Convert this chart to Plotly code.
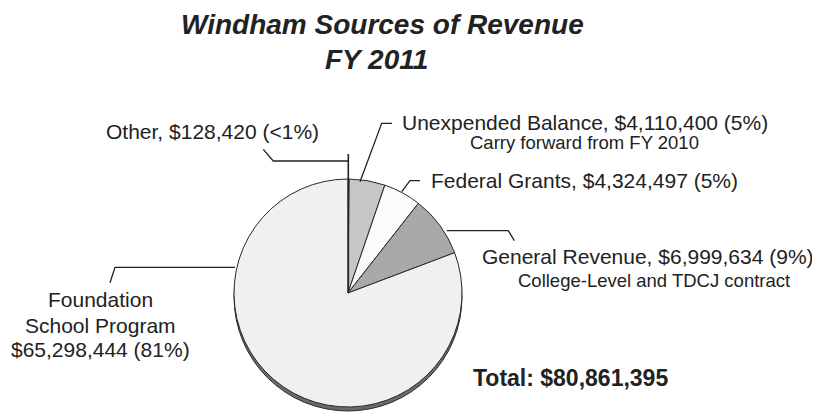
import plotly.graph_objects as go

# ---- data ----
categories = ["Other", "Unexpended Balance", "Federal Grants", "General Revenue", "Foundation School Program"]
values = [128420, 4110400, 4324497, 6999634, 65298444]
pct_labels = ["<1%", "5%", "5%", "9%", "81%"]
notes = ["", "Carry forward from FY 2010", "", "College-Level and TDCJ contract", ""]
colors = ["#555555", "#c6c6c6", "#fbfbfb", "#a9a9a9", "#f0f0f0"]
title_lines = ["Windham Sources of Revenue", "FY 2011"]

total = sum(values)

# page is 820x412; the html body has an 8px margin, so the figure is sized to fit
OFF = 8
W, H = 820 - OFF, 412 - OFF
FONT = "Arial, Liberation Sans, sans-serif"
TXT = "#222222"


def px(x):
    return (x - OFF) / W


def py(y):
    return 1 - (y - OFF) / H


# pie geometry (page pixels)
CX, CY, R = 348, 293, 114

fig = go.Figure()
fig.add_trace(go.Pie(
    labels=categories,
    values=values,
    sort=False,
    direction="clockwise",
    rotation=0,
    marker=dict(colors=colors, line=dict(color="#2a2a2a", width=1)),
    textinfo="none",
    hoverinfo="label+value+percent",
    showlegend=False,
    domain=dict(x=[px(CX - R), px(CX + R)], y=[py(CY + R), py(CY - R)]),
))

shapes = []
# 3D base / shadow under the pie
shapes.append(dict(type="circle", xref="paper", yref="paper", layer="below",
                   x0=px(CX - R), x1=px(CX + R), y0=py(CY + R + 4), y1=py(CY - R + 4),
                   fillcolor="#6a6a6a", line=dict(color="#2a2a2a", width=1)))


def path(points):
    s = "M " + " L ".join(f"{px(x)} {py(y)}" for x, y in points)
    return dict(type="path", xref="paper", yref="paper", path=s,
                line=dict(color="#222222", width=1.3))


# leader lines
shapes.append(path([(263.3, 149.3), (273.3, 161), (348.3, 161)]))
shapes.append(dict(type="line", xref="paper", yref="paper",
                   x0=px(348.3), x1=px(348.3), y0=py(154), y1=py(CY),
                   line=dict(color="#222222", width=1.6)))
shapes.append(path([(360, 181.7), (381.7, 123.3), (392, 123.3)]))
shapes.append(path([(401.7, 191.7), (410, 180.7), (420, 180.7)]))
shapes.append(path([(446.7, 230.7), (508.3, 230.7), (514.3, 240.7)]))
shapes.append(path([(235, 267.3), (115, 267.3), (110, 282.7)]))

annotations = []


def ann(text, x, y, size, xanchor="left", bold=False, italic=False):
    if bold:
        text = f"<b>{text}</b>"
    if italic:
        text = f"<i>{text}</i>"
    annotations.append(dict(text=text, x=px(x), y=py(y), xref="paper", yref="paper",
                            xanchor=xanchor, yanchor="middle", showarrow=False,
                            font=dict(family=FONT, size=size, color=TXT)))


# title
ann(title_lines[0], 382, 24, 28, xanchor="center", bold=True, italic=True)
ann(title_lines[1], 376, 59, 28, xanchor="center", bold=True, italic=True)


def main_label(i):
    return f"{categories[i]}, ${values[i]:,} ({pct_labels[i]})"


# slice labels
ann(main_label(0), 104, 131, 21)
ann(main_label(1), 400, 122.5, 21)
ann(notes[1], 584, 142, 18.5, xanchor="center")
ann(main_label(2), 429, 181, 21)
ann(main_label(3), 480, 256, 21)
ann(notes[3], 654, 280, 18.5, xanchor="center")
ann("Foundation", 100, 299, 21, xanchor="center")
ann("School Program", 100, 325, 21, xanchor="center")
ann(f"${values[4]:,} ({pct_labels[4]})", 100, 349, 21, xanchor="center")

# total
ann(f"Total: ${total:,}", 471, 378, 23, bold=True)

fig.update_layout(
    width=W, height=H,
    margin=dict(l=0, r=0, t=0, b=0),
    paper_bgcolor="white", plot_bgcolor="white",
    shapes=shapes, annotations=annotations,
    showlegend=False,
)

fig.write_html("out.html")
